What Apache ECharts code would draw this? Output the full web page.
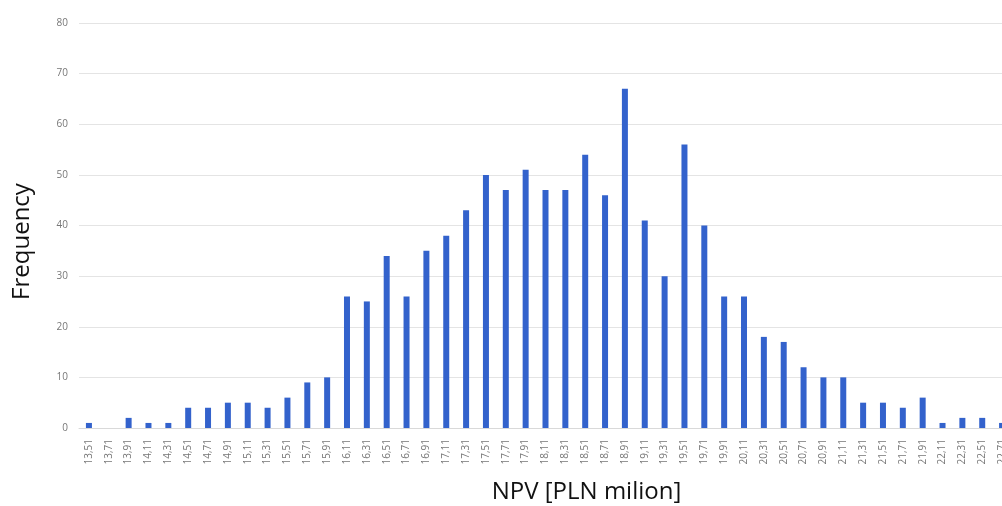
<!DOCTYPE html>
<html>
<head>
    <meta charset="utf-8">
    <script src="https://cdn.jsdelivr.net/npm/echarts@6/dist/echarts.min.js"></script>
    <style>
        html, body { margin: 0; padding: 0; background: #fff; }
        #hist { width: 1002px; height: 506px; }
    </style>
</head>
<body>
    <div id="hist"></div>
<script type="text/javascript">
    // NPV bins (PLN milion), step 0.2
    var npv_bins = ['13,51', '13,71', '13,91', '14,11', '14,31', '14,51', '14,71', '14,91', '15,11', '15,31',
        '15,51', '15,71', '15,91', '16,11', '16,31', '16,51', '16,71', '16,91', '17,11', '17,31',
        '17,51', '17,71', '17,91', '18,11', '18,31', '18,51', '18,71', '18,91', '19,11', '19,31',
        '19,51', '19,71', '19,91', '20,11', '20,31', '20,51', '20,71', '20,91', '21,11', '21,31',
        '21,51', '21,71', '21,91', '22,11', '22,31', '22,51', '22,71'];
    var frequency = [1, 0, 2, 1, 1, 4, 4, 5, 5, 4,
        6, 9, 10, 26, 25, 34, 26, 35, 38, 43,
        50, 47, 51, 47, 47, 54, 46, 67, 41, 30,
        56, 40, 26, 26, 18, 17, 12, 10, 10, 5,
        5, 4, 6, 1, 2, 2, 1];
    var y_ticks = [0, 80, 10]; // min, max, step

    var chart = echarts.init(document.getElementById('hist'));
    var option = {
        animation: false,
        backgroundColor: '#fff',
        grid: {
            left: 79,
            right: -10,
            top: 23,
            bottom: 78,
            outerBoundsMode: 'none',
            containLabel: false
        },
        xAxis: {
            type: 'category',
            data: npv_bins,
            name: 'NPV [PLN milion]',
            nameLocation: 'middle',
            nameGap: 52,
            // original chart was cropped on the right, title sits right of centre
            nameTextStyle: { fontFamily: 'Open Sans', fontSize: 24, color: '#111', padding: [0, 0, 0, 82] },
            axisLine: { lineStyle: { color: '#d9d9d9' } },
            axisTick: { show: false },
            axisLabel: {
                rotate: 90,
                interval: 0,
                margin: 11,
                fontSize: 10,
                fontFamily: 'Open Sans',
                color: '#777'
            }
        },
        yAxis: {
            type: 'value',
            min: y_ticks[0],
            max: y_ticks[1],
            interval: y_ticks[2],
            name: 'Frequency',
            nameLocation: 'middle',
            nameGap: 45,
            nameRotate: 90,
            nameTextStyle: { fontFamily: 'Open Sans', fontSize: 24, color: '#111', padding: [0, 32, 0, 0] },
            axisLine: { show: false },
            axisTick: { show: false },
            axisLabel: {
                margin: 11,
                fontSize: 10,
                fontFamily: 'Open Sans',
                color: '#777'
            },
            splitLine: { lineStyle: { color: '#e4e4e4' } }
        },
        series: [{
            type: 'bar',
            data: frequency,
            barWidth: 6,
            itemStyle: { color: '#3362cc' }
        }]
    };
    chart.setOption(option, true);
</script>
</body>
</html>
